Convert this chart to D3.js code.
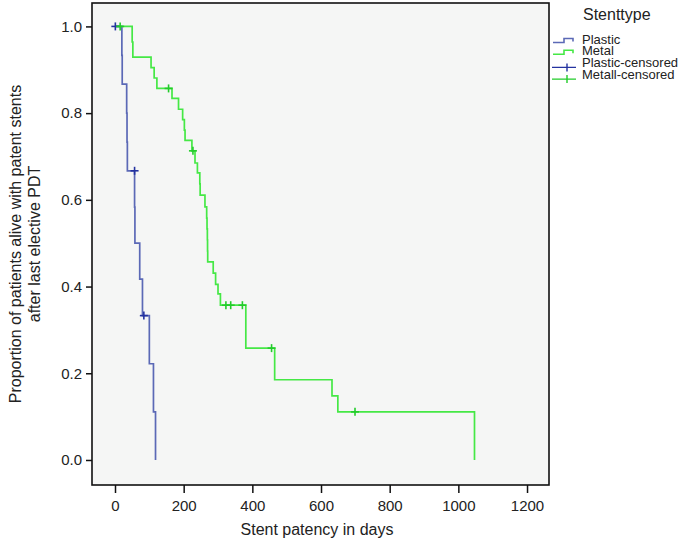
<!DOCTYPE html>
<html>
<head>
<meta charset="utf-8">
<script src="https://cdn.jsdelivr.net/npm/d3@7"></script>
<style>
  body { margin: 0; background: #fff; }
  svg { font-family: "Liberation Sans", Arial, sans-serif; }
</style>
</head>
<body>
<script>
// Kaplan-Meier steps: [day, proportion after the step]
var plasticSteps = [
  [0, 1.0], [20, 0.933], [21, 0.867], [34, 0.8], [35, 0.733], [36, 0.667],
  [57, 0.583], [58, 0.5], [72, 0.417], [80, 0.333], [100, 0.222],
  [112, 0.111], [118, 0.0]
];
var plasticCensored = [[1, 1.0], [57, 0.667], [84, 0.333]];

var metalSteps = [
  [0, 1.0], [50, 0.964], [52, 0.929], [105, 0.905], [114, 0.881], [122, 0.857],
  [166, 0.834], [185, 0.809], [197, 0.785], [202, 0.761], [204, 0.737],
  [224, 0.713], [233, 0.685], [240, 0.662], [247, 0.637], [248, 0.611],
  [262, 0.584], [267, 0.558], [268, 0.533], [269, 0.508], [269.5, 0.482],
  [270, 0.457], [286, 0.431], [293, 0.405], [300, 0.383], [307, 0.357],
  [381, 0.258], [465, 0.185], [632, 0.148], [649, 0.111], [1047, 0.0]
];
var metalCensored = [[15, 1.0], [156, 0.857], [227, 0.713], [323, 0.357],
  [337, 0.357], [371, 0.357], [456, 0.258], [699, 0.111]];

var xTicks = [0, 200, 400, 600, 800, 1000, 1200];
var yTicks = [0.0, 0.2, 0.4, 0.6, 0.8, 1.0];
var legendTitle = "Stenttype";
var legendNames = ["Plastic", "Metal", "Plastic-censored", "Metall-censored"];

var W = 691, H = 541;
var pLeft = 92, pRight = 549, pTop = 3, pBottom = 485;

var svg = d3.select("body").append("svg")
  .attr("width", W).attr("height", H);

var x = d3.scaleLinear().domain([-67, 1264]).range([pLeft, pRight]);
var y = d3.scaleLinear().domain([-0.0577, 1.054]).range([pBottom, pTop]);

// plot background
svg.append("rect")
  .attr("x", pLeft).attr("y", pTop)
  .attr("width", pRight - pLeft).attr("height", pBottom - pTop)
  .attr("fill", "#f5f6f5");

// axes
var xAxis = d3.axisBottom(x).tickValues(xTicks).tickSize(8).tickFormat(d3.format("d"));
var yAxis = d3.axisLeft(y).tickValues(yTicks).tickSize(6).tickFormat(d3.format(".1f"));

var gx = svg.append("g").attr("transform", `translate(0,${pBottom})`).call(xAxis);
var gy = svg.append("g").attr("transform", `translate(${pLeft},0)`).call(yAxis);
[gx, gy].forEach(function(g) {
  g.select(".domain").remove();
  g.selectAll(".tick line").attr("stroke", "#111").attr("stroke-width", 1.5);
  g.selectAll(".tick text").attr("fill", "#222").style("font-size", "15px");
});
gx.selectAll(".tick text").attr("y", 21).attr("dy", "0.35em");
gy.selectAll(".tick text").attr("x", -10);

// step lines
var line = d3.line()
  .x(function(d) { return x(d[0]); })
  .y(function(d) { return y(d[1]); })
  .curve(d3.curveStepAfter);

var plasticColor = "#5b69b6", metalColor = "#45e845";
var plasticMark = "#2433a0", metalMark = "#22cc2a";

svg.append("path").datum(plasticSteps)
  .attr("d", line).attr("fill", "none")
  .attr("stroke", plasticColor).attr("stroke-width", 1.7);
svg.append("path").datum(metalSteps)
  .attr("d", line).attr("fill", "none")
  .attr("stroke", metalColor).attr("stroke-width", 1.7);

function crosses(data, color) {
  var g = svg.append("g").attr("stroke", color).attr("stroke-width", 1.6);
  g.selectAll("line.h").data(data).enter().append("line")
    .attr("x1", function(d) { return x(d[0]) - 4; })
    .attr("x2", function(d) { return x(d[0]) + 4; })
    .attr("y1", function(d) { return y(d[1]); })
    .attr("y2", function(d) { return y(d[1]); });
  g.selectAll("line.v").data(data).enter().append("line")
    .attr("x1", function(d) { return x(d[0]); })
    .attr("x2", function(d) { return x(d[0]); })
    .attr("y1", function(d) { return y(d[1]) - 4; })
    .attr("y2", function(d) { return y(d[1]) + 4; });
}
crosses(plasticCensored, plasticMark);
crosses(metalCensored, metalMark);

// frame
svg.append("rect")
  .attr("x", pLeft).attr("y", pTop)
  .attr("width", pRight - pLeft).attr("height", pBottom - pTop)
  .attr("fill", "none").attr("stroke", "#111").attr("stroke-width", 1.6);

// axis titles
svg.append("text")
  .attr("x", (x(0) + x(1200)) / 2 - 4).attr("y", 531)
  .attr("text-anchor", "middle").attr("dominant-baseline", "middle")
  .style("font-size", "16px").attr("fill", "#222")
  .text("Stent patency in days");

var yt = svg.append("text")
  .attr("transform", "translate(15,244) rotate(-90)")
  .attr("text-anchor", "middle")
  .style("font-size", "16px").attr("fill", "#222");
yt.append("tspan").attr("x", 0).attr("dy", "0.35em").text("Proportion of patients alive with patent stents");
yt.append("tspan").attr("x", 0).attr("dy", "1.2em").text("after last elective PDT");

// legend
svg.append("text").attr("x", 583).attr("y", 19.5)
  .style("font-size", "16px").attr("fill", "#222").text(legendTitle);

var legendColors = [plasticColor, metalColor, plasticMark, metalMark];
var legendY = d3.scaleLinear().domain([0, 3]).range([43.5, 78.6]);

legendNames.forEach(function(name, i) {
  var by = legendY(i);
  var col = legendColors[i];
  if (i < 2) {
    svg.append("path")
      .attr("d", `M553,${by - 1}H564V${by - 5}H573V${by - 2}`)
      .attr("fill", "none").attr("stroke", col).attr("stroke-width", 1.6);
  } else {
    var cy = by + 0.5;
    svg.append("path")
      .attr("d", `M552,${cy}H576M567,${cy - 4}V${cy + 4}`)
      .attr("fill", "none").attr("stroke", col).attr("stroke-width", 1.4);
  }
  svg.append("text").attr("x", 582).attr("y", by)
    .style("font-size", "13px").attr("fill", "#222").text(name);
});
</script>
</body>
</html>
